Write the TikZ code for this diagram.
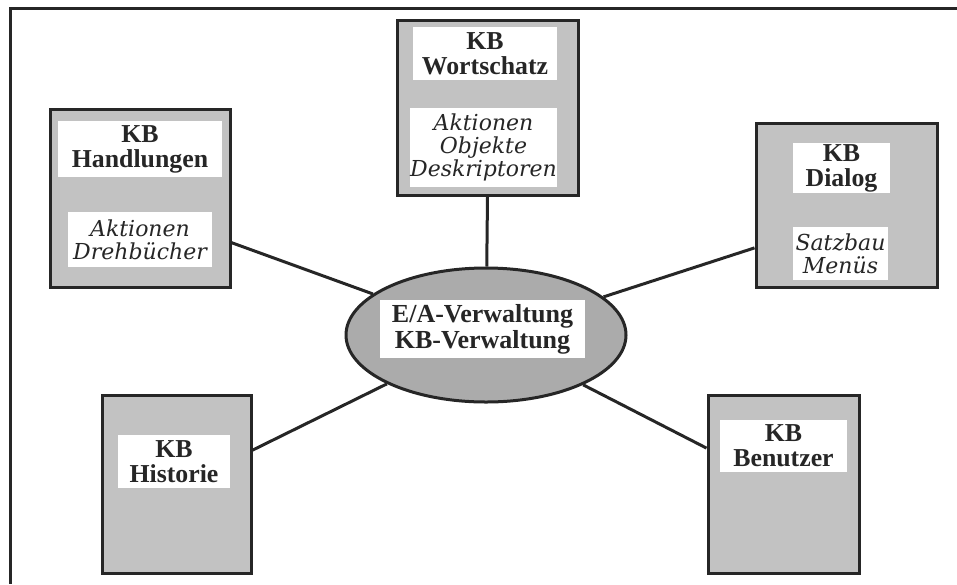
\documentclass[tikz,border=0pt]{standalone}
\usepackage{fontspec}
\setmainfont{Liberation Serif}
\newfontfamily\listfont{DejaVu Serif}
\usetikzlibrary{shapes.geometric}
\definecolor{KBDots}{HTML}{C2C2C2}
\definecolor{KBDotsDark}{HTML}{ABABAB}
\definecolor{KBInk}{HTML}{262626}

\begin{document}
\begin{tikzpicture}[
  x=0.5pt, y=-0.5pt,
  kbbox/.style={draw=KBInk, line width=1.5pt, fill=KBDots, inner sep=0pt},
  kbtitle/.style={fill=white, inner sep=0pt, align=center, text=KBInk, font=\fontsize{12.9}{12.5}\selectfont\bfseries},
  kblist/.style={fill=white, inner sep=0pt, align=center, text=KBInk, font=\listfont\itshape\fontsize{11}{11.5}\selectfont},
  link/.style={draw=KBInk, line width=1.5pt}
]
  \useasboundingbox (0,0) rectangle (957,584);
  \draw[KBInk, line width=1.5pt] (957,8) -- (10,8) -- (10,584);

  % the five knowledge bases
  \node[kbbox, minimum width=90pt, minimum height=89pt] (hand) at (140,198) {};
  \node[kbtitle, minimum width=82pt, minimum height=28pt] (handtitle) at (140,149) {KB\\Handlungen};
  \node[kblist, minimum width=72pt, minimum height=27.5pt] (handlist) at (140,239.5) {Aktionen\\Drehbücher};

  \node[kbbox, minimum width=90.5pt, minimum height=87.5pt] (wort) at (487.5,107.5) {};
  \node[kbtitle, minimum width=72pt, minimum height=26.5pt] (worttitle) at (485,53.5) {KB\\Wortschatz};
  \node[kblist, minimum width=71.5pt, minimum height=39.5pt] (wortlist) at (483.5,147.5) {Aktionen\\Objekte\\Deskriptoren};

  \node[kbbox, minimum width=90.5pt, minimum height=82pt] (dial) at (846.5,205) {};
  \node[kbtitle, minimum width=48.5pt, minimum height=25pt] (dialtitle) at (841.5,168) {KB\\Dialog};
  \node[kblist, minimum width=47.5pt, minimum height=26.5pt] (diallist) at (840.5,253.5) {Satzbau\\Menüs};

  \node[kbbox, minimum width=74.5pt, minimum height=89pt] (hist) at (176.5,484) {};
  \node[kbtitle, minimum width=56pt, minimum height=26.5pt] (histtitle) at (174,461.5) {KB\\Historie};

  \node[kbbox, minimum width=75.5pt, minimum height=89pt] (benu) at (783.5,484) {};
  \node[kbtitle, minimum width=63.5pt, minimum height=26pt] (benutitle) at (783.5,446) {KB\\Benutzer};

  % central management
  \node[ellipse, draw=KBInk, line width=1.5pt, fill=KBDotsDark, inner sep=0pt,
        minimum width=140pt, minimum height=67pt] (ell) at (486,335) {};
  \node[kbtitle, minimum width=102.5pt, minimum height=29pt, font=\fontsize{13}{11.5}\selectfont\bfseries]
        (elltext) at (482.5,329) {E/A-Verwaltung\\KB-Verwaltung};

  \draw[link] (hand.-26) -- (ell);
  \draw[link] (wort.south) -- (ell);
  \draw[link] (dial.205) -- (ell);
  \draw[link] (hist.24.5) -- (ell);
  \draw[link] (benu.155.5) -- (ell);
\end{tikzpicture}
\end{document}
